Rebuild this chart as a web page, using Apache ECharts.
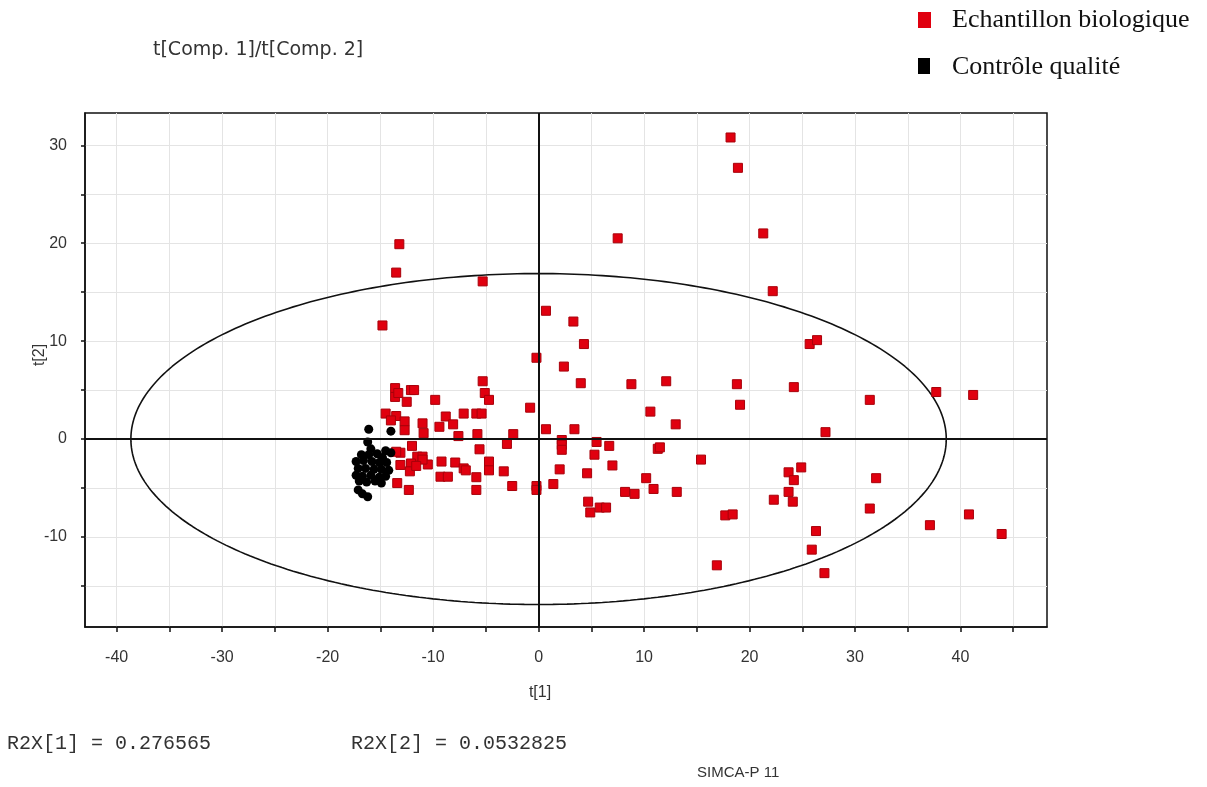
<!DOCTYPE html>
<html><head><meta charset="utf-8">
<script src="https://cdn.jsdelivr.net/npm/echarts@6/dist/echarts.min.js"></script>
<style>html,body{margin:0;padding:0;background:#fff}#c{width:1207px;height:787px}</style>
</head><body><div id="c"></div>
<script>
// ---- Data ----
const bioX = [18.2,18.9,21.3,22.2,7.5,-13.2,-13.5,-5.3,-14.8,0.7,3.3,4.3,-0.2,2.4,4.0,8.8,12.1,25.7,26.4,18.8,
  19.1,24.2,31.4,37.7,41.2,27.2,-0.8,10.6,13.0,0.7,3.4,2.2,2.2,2.2,5.5,6.7,5.3,7.0,11.3,11.5,
  15.4,2.0,4.6,1.4,-0.2,-0.2,10.2,10.9,8.2,9.1,13.1,4.7,4.9,5.8,6.4,17.7,18.4,16.9,23.7,24.2,
  24.9,23.7,22.3,24.1,32.0,31.4,40.8,37.1,43.9,26.3,25.9,27.1,
  -5.3,-5.1,-4.7,-13.6,-13.6,-13.3,-12.1,-11.8,-12.5,-9.8,-14.5,-13.5,-14.0,-12.7,-12.7,-11.0,-10.9,-8.8,
  -9.4,-8.1,-7.1,-5.9,-5.4,-7.6,-5.8,-2.4,-3.0,-5.6,-12.0,-13.1,-11.5,-11.0,-12.1,-13.1,-10.5,-9.2,
  -7.9,-7.1,-4.7,-4.7,-3.3,-9.3,-8.6,-5.9,-12.2,-13.4,-12.3,-5.9,-2.5,-11.0,-11.6,-6.9,-13.5];
const bioY = [30.8,27.7,21.0,15.1,20.5,19.9,17.0,16.1,11.6,13.1,12.0,9.7,8.3,7.4,5.7,5.6,5.9,9.7,10.1,5.6,
  3.5,5.3,4.0,4.8,4.5,0.7,3.2,2.8,1.5,1.0,1.0,-0.1,-0.6,-1.1,-0.3,-0.7,-1.6,-2.7,-1.0,-0.85,
  -2.1,-3.1,-3.5,-4.6,-4.8,-5.2,-4.0,-5.1,-5.4,-5.6,-5.4,-6.4,-7.5,-7.0,-7.0,-7.8,-7.7,-12.9,-3.4,-4.2,
  -2.9,-5.4,-6.2,-6.4,-4.0,-7.1,-7.7,-8.8,-9.7,-9.4,-11.3,-13.7,
  5.9,4.7,4.0,5.2,4.3,4.7,5.0,5.0,3.8,4.0,2.6,2.35,1.9,1.8,0.9,1.6,0.6,2.3,
  1.25,1.5,2.6,2.6,2.6,0.3,0.5,0.5,-0.5,-1.05,-0.7,-1.4,-1.8,-1.8,-2.5,-2.65,-2.6,-2.3,
  -2.4,-3.0,-2.3,-3.2,-3.3,-3.85,-3.85,-3.9,-3.3,-4.5,-5.2,-5.2,-4.8,-2.1,-2.75,-3.2,-1.3];
const qcX = [-16.1,-14.0,-16.2,-15.9,-14.5,-14.0,-16.8,-16.1,-15.3,-14.8,-17.3,-16.6,-15.8,-15.1,-14.4,-17.1,
  -16.4,-15.6,-14.9,-14.2,-17.3,-16.7,-15.9,-15.1,-14.5,-17.0,-16.3,-15.5,-14.9,-17.1,-16.7,-16.2];
const qcY = [1.0,0.8,-0.3,-1.0,-1.2,-1.4,-1.6,-1.6,-1.5,-1.9,-2.3,-2.2,-2.3,-2.4,-2.4,-3.0,
  -3.0,-3.1,-3.1,-3.2,-3.7,-3.8,-3.7,-3.9,-3.8,-4.3,-4.4,-4.3,-4.5,-5.2,-5.6,-5.9];
const xTicks = [-40,-35,-30,-25,-20,-15,-10,-5,0,5,10,15,20,25,30,35,40,45];
const xLabels = [-40,-30,-20,-10,0,10,20,30,40];
const yTicks = [-15,-10,-5,0,5,10,15,20,25,30];
const yLabels = [-10,0,10,20,30];
const ellipseRx = 38.65, ellipseRy = 16.9;   // Hotelling T2 ellipse semi-axes
const seriesNames = ['Echantillon biologique', 'Contrôle qualité'];
const r2xText = ['R2X[1] = 0.276565', 'R2X[2] = 0.0532825'];

// ---- build ----
const bio = bioX.map((x, i) => [x, bioY[i]]);
const qc = qcX.map((x, i) => [x, qcY[i]]);
const ell = [];
for (let i = 0; i <= 360; i++) {
  const t = i * Math.PI / 180;
  ell.push([ellipseRx * Math.cos(t), ellipseRy * Math.sin(t)]);
}
const RED = '#e0000f', BLACK = '#000000';
const sans = 'Liberation Sans';

const chart = echarts.init(document.getElementById('c'), null, {renderer: 'canvas'});
chart.setOption({
  backgroundColor: '#ffffff',
  animation: false,
  grid: {left: 85, top: 113, width: 962, height: 514, show: true, borderColor: '#111', borderWidth: 1.5},
  xAxis: {
    type: 'value', min: -43, max: 48.2,
    name: 't[1]', nameLocation: 'middle', nameGap: 58,
    nameTextStyle: {fontFamily: sans, fontSize: 16, color: '#333', padding: [0, 52, 0, 0]},
    axisLine: {show: true, onZero: false, lineStyle: {color: '#111', width: 1.5}},
    axisTick: {show: true, length: 5, customValues: xTicks, lineStyle: {color: '#111', width: 1.5}},
    axisLabel: {customValues: xLabels, margin: 23, fontFamily: sans, fontSize: 16, color: '#333'},
    splitLine: {show: true, lineStyle: {color: '#e4e4e4', width: 1}}
  },
  yAxis: {
    type: 'value', min: -19.2, max: 33.3,
    name: 't[2]', nameLocation: 'middle', nameGap: 37, nameMoveOverlap: false,
    nameTextStyle: {fontFamily: sans, fontSize: 16, color: '#333', padding: [0, 0, 0, 30]},
    axisLine: {show: true, onZero: false, lineStyle: {color: '#111', width: 1.5}},
    axisTick: {show: true, length: 4, customValues: yTicks, lineStyle: {color: '#111', width: 1.5}},
    axisLabel: {customValues: yLabels, margin: 18, fontFamily: sans, fontSize: 16, color: '#333'},
    splitLine: {show: true, lineStyle: {color: '#e4e4e4', width: 1}}
  },
  title: {
    text: 't[Comp. 1]/t[Comp. 2]', left: 148, top: 36,
    textStyle: {fontFamily: 'DejaVu Sans', fontSize: 19, fontWeight: 'normal', color: '#333'}
  },
  graphic: [
    {type: 'rect', left: 918, top: 12, shape: {width: 13, height: 16}, style: {fill: RED}},
    {type: 'text', left: 952, top: 7, style: {text: seriesNames[0], font: '26px "Liberation Serif"', fill: '#111'}},
    {type: 'rect', left: 918, top: 58, shape: {width: 12, height: 16}, style: {fill: BLACK}},
    {type: 'text', left: 952, top: 54, style: {text: seriesNames[1], font: '26px "Liberation Serif"', fill: '#111'}},
    {type: 'text', left: 7, top: 734, style: {text: r2xText[0], font: '20px "Liberation Mono"', fill: '#333'}},
    {type: 'text', left: 351, top: 734, style: {text: r2xText[1], font: '20px "Liberation Mono"', fill: '#333'}},
    {type: 'text', left: 697, top: 765, style: {text: 'SIMCA-P 11', font: '15px "Liberation Sans"', fill: '#333'}}
  ],
  series: [
    {
      type: 'line', name: 'ellipse', data: ell, showSymbol: false, symbol: 'none', silent: true,
      lineStyle: {color: '#111', width: 1.6}, z: 2,
      markLine: {
        symbol: 'none', silent: true, label: {show: false},
        lineStyle: {color: '#111', width: 2, type: 'solid'},
        data: [{xAxis: 0}, {yAxis: 0}]
      }
    },
    {
      type: 'scatter', name: seriesNames[0], data: bio, symbol: 'rect', symbolSize: 9,
      itemStyle: {color: RED, borderColor: '#a8000a', borderWidth: 1, opacity: 1}, z: 3
    },
    {
      type: 'scatter', name: seriesNames[1], data: qc, symbol: 'circle', symbolSize: 9,
      itemStyle: {color: BLACK, opacity: 1}, z: 4
    }
  ]
});
</script></body></html>
